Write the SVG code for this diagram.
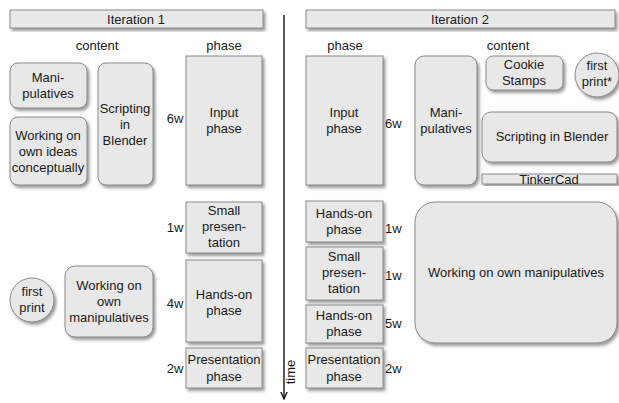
<svg xmlns="http://www.w3.org/2000/svg" width="619" height="403" viewBox="0 0 619 403">
<defs>
<filter id="sh" x="-20%" y="-20%" width="140%" height="140%">
<feDropShadow dx="2" dy="2.5" stdDeviation="1.5" flood-color="#555" flood-opacity="0.6"/>
</filter>
<marker id="arr" viewBox="0 0 10 10" refX="9" refY="5" markerWidth="8" markerHeight="8" orient="auto" markerUnits="userSpaceOnUse">
<path d="M0,1 L9,5 L0,9" fill="none" stroke="#000" stroke-width="1.5"/>
</marker>
</defs>
<style>
.b{fill:#e8e8e8;stroke:#8a8a8a;stroke-width:1;filter:url(#sh)}
text{font-family:"Liberation Sans",Arial,sans-serif;font-size:13px;fill:#1a1a1a;text-anchor:middle}
.w{text-anchor:start}
</style>
<rect width="619" height="403" fill="#fff"/>

<g id="iteration1">
<rect class="b" x="10" y="10" width="253" height="18"/>
<text x="136" y="24">Iteration 1</text>
</g>
<g id="iteration2">
<rect class="b" x="306" y="10" width="309" height="18"/>
<text x="460" y="24">Iteration 2</text>
</g>
<text x="97" y="50">content</text>
<text x="224" y="50">phase</text>
<text x="345" y="50">phase</text>
<text x="508" y="50">content</text>

<g id="connectors">
<line x1="284" y1="15" x2="284" y2="399" stroke="#000" stroke-width="1.3" marker-end="url(#arr)"/>
<text transform="translate(295,372) rotate(-90)">time</text>
</g>

<g id="i1-manipulatives">
<rect class="b" x="10" y="63" width="77" height="45" rx="8"/>
<text x="48" y="82">Mani-</text><text x="48" y="98">pulatives</text>
</g>
<g id="i1-working-ideas">
<rect class="b" x="10" y="117" width="77" height="68" rx="8"/>
<text x="48" y="140">Working on</text><text x="48" y="156">own ideas</text><text x="48" y="172">conceptually</text>
</g>
<g id="i1-scripting">
<rect class="b" x="98" y="63" width="55" height="122" rx="8"/>
<text x="125" y="113">Scripting</text><text x="125" y="129">in</text><text x="125" y="145">Blender</text>
</g>
<g id="i1-firstprint">
<circle class="b" cx="32" cy="300" r="22"/>
<text x="32" y="296">first</text><text x="32" y="312">print</text>
</g>
<g id="i1-working-manip">
<rect class="b" x="65" y="266" width="88" height="71" rx="10"/>
<text x="109" y="290">Working on</text><text x="109" y="306">own</text><text x="109" y="322">manipulatives</text>
</g>

<g id="i1-input">
<rect class="b" x="186" y="56" width="76" height="129"/>
<text x="224" y="117">Input</text><text x="224" y="133">phase</text>
<text x="175" y="123">6w</text>
</g>
<g id="i1-small">
<rect class="b" x="186" y="202" width="76" height="51"/>
<text x="224" y="215">Small</text><text x="224" y="231">presen-</text><text x="224" y="247">tation</text>
<text x="175" y="232">1w</text>
</g>
<g id="i1-handson">
<rect class="b" x="186" y="260" width="76" height="82"/>
<text x="224" y="299">Hands-on</text><text x="224" y="315">phase</text>
<text x="175" y="308">4w</text>
</g>
<g id="i1-presentation">
<rect class="b" x="186" y="348" width="76" height="40"/>
<text x="224" y="364">Presentation</text><text x="224" y="381">phase</text>
<text x="175" y="373">2w</text>
</g>

<g id="i2-input">
<rect class="b" x="306" y="56" width="77" height="129"/>
<text x="344" y="117">Input</text><text x="344" y="133">phase</text>
<text class="w" x="385" y="128">6w</text>
</g>
<g id="i2-handson1">
<rect class="b" x="306" y="201" width="77" height="41"/>
<text x="344" y="218">Hands-on</text><text x="344" y="234">phase</text>
<text class="w" x="385" y="233">1w</text>
</g>
<g id="i2-small">
<rect class="b" x="306" y="247" width="77" height="53"/>
<text x="344" y="261">Small</text><text x="344" y="277">presen-</text><text x="344" y="293">tation</text>
<text class="w" x="385" y="280">1w</text>
</g>
<g id="i2-handson2">
<rect class="b" x="306" y="305" width="77" height="38"/>
<text x="344" y="320">Hands-on</text><text x="344" y="336">phase</text>
<text class="w" x="385" y="328">5w</text>
</g>
<g id="i2-presentation">
<rect class="b" x="306" y="348" width="77" height="40"/>
<text x="344" y="364">Presentation</text><text x="344" y="381">phase</text>
<text class="w" x="385" y="373">2w</text>
</g>

<g id="i2-manipulatives">
<rect class="b" x="415" y="56" width="62" height="129" rx="9"/>
<text x="446" y="117">Mani-</text><text x="446" y="133">pulatives</text>
</g>
<g id="i2-cookie">
<rect class="b" x="486" y="56" width="77" height="34" rx="7"/>
<text x="524" y="69">Cookie</text><text x="524" y="85">Stamps</text>
</g>
<g id="i2-firstprint">
<circle class="b" cx="597" cy="75" r="22"/>
<text x="597" y="70">first</text><text x="597" y="86">print*</text>
</g>
<g id="i2-scripting">
<rect class="b" x="482" y="112" width="135" height="50" rx="9"/>
<text x="552" y="141">Scripting in Blender</text>
</g>
<g id="i2-tinkercad">
<rect class="b" x="482" y="174" width="135" height="10"/>
<text x="549" y="184">TinkerCad</text>
</g>
<g id="i2-working-manip">
<rect class="b" x="415" y="202" width="202" height="141" rx="20"/>
<text x="516" y="277">Working on own manipulatives</text>
</g>
</svg>
